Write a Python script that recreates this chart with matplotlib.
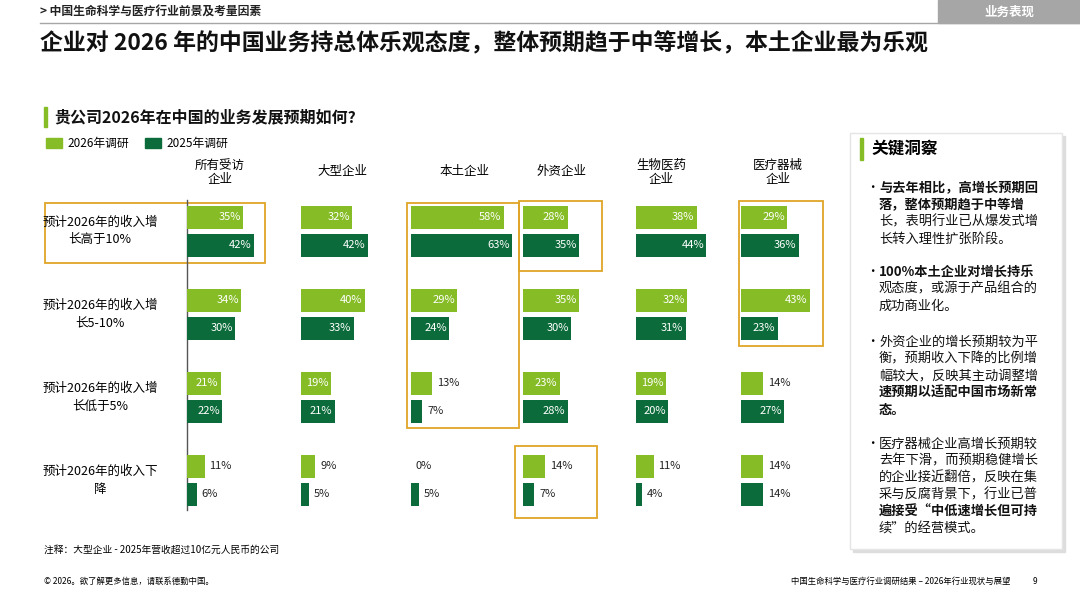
import matplotlib
matplotlib.use('Agg')
import matplotlib.pyplot as plt
from matplotlib.patches import Rectangle

plt.rcParams['font.family'] = ['Noto Sans CJK SC', 'DejaVu Sans']

# 数据
groups = ['所有受访\n企业', '大型企业', '本土企业', '外资企业', '生物医药\n企业', '医疗器械\n企业']
rows = ['预计2026年的收入增\n长高于10%', '预计2026年的收入增\n长5-10%',
        '预计2026年的收入增\n长低于5%', '预计2026年的收入下\n降']
v2026 = [[35, 34, 21, 11], [32, 40, 19, 9], [58, 29, 13, 0],
         [28, 35, 23, 14], [38, 32, 19, 11], [29, 43, 14, 14]]
v2025 = [[42, 30, 22, 6], [42, 33, 21, 5], [63, 24, 7, 5],
         [35, 30, 28, 7], [44, 31, 20, 4], [36, 23, 27, 14]]

LIGHT = '#86BC25'
DARK = '#0B6B3A'
ORANGE = '#E0A526'
W, H = 1080, 608

fig = plt.figure(figsize=(10.8, 6.08), dpi=100)
bg = fig.add_axes([0, 0, 1, 1])
bg.set_xlim(0, W)
bg.set_ylim(H, 0)
bg.axis('off')

# 顶部
bg.text(40, 12, '> 中国生命科学与医疗行业前景及考量因素', fontsize=8.5, fontweight='bold',
        va='center', color='#222222')
bg.add_patch(Rectangle((938, 0), 142, 23, color='#A6A6A6'))
bg.text(1009, 12, '业务表现', fontsize=9, color='white', style='italic', fontweight='bold',
        ha='center', va='center')
bg.plot([40, 1080], [23, 23], color='#A6A6A6', lw=1)
bg.text(40, 44, '企业对 2026 年的中国业务持总体乐观态度，整体预期趋于中等增长，本土企业最为乐观',
        fontsize=16.5, fontweight='bold', va='center', color='#111111')

bg.add_patch(Rectangle((44, 107), 3, 20, color=LIGHT))
bg.text(54, 117, '贵公司2026年在中国的业务发展预期如何?', fontsize=11.5, fontweight='bold',
        va='center', color='#111111')
bg.add_patch(Rectangle((46, 138), 16, 10, color=LIGHT))
bg.text(67, 143, '2026年调研', fontsize=8.5, va='center')
bg.add_patch(Rectangle((145, 138), 16, 10, color=DARK))
bg.text(166, 143, '2025年调研', fontsize=8.5, va='center')

starts = [187, 301, 411, 523, 636, 741]
centers = [220, 342, 465, 562, 661, 778]
row_y = [217, 300, 383, 466]
pxpp = 1.6
top, bot = 195, 515

for gi, g in enumerate(groups):
    bg.text(centers[gi], 172, g, fontsize=9, ha='center', va='center', linespacing=1.1)
    ax = fig.add_axes([starts[gi] / W, 1 - bot / H, 110 / W, (bot - top) / H])
    ax.set_xlim(0, 110 / pxpp)
    ax.set_ylim(bot, top)
    ax.axis('off')
    for ri in range(len(rows)):
        for val, yc, col in [(v2026[gi][ri], row_y[ri], LIGHT), (v2025[gi][ri], row_y[ri] + 28, DARK)]:
            ax.barh(yc, val, height=23, color=col)
            if val >= 15:
                ax.text(val - 1.5, yc, f'{val}%', color='white', fontsize=8, ha='right', va='center')
            else:
                ax.text(val + 3, yc, f'{val}%', color='#222222', fontsize=8, ha='left', va='center')

bg.plot([187, 187], [200, 510], color='#555555', lw=1)
for ri, r in enumerate(rows):
    bg.text(100, row_y[ri] + 14, r, fontsize=9, ha='center', va='center', linespacing=1.5)

# 橙色框
for x0, y0, x1, y1 in [(45, 203, 265, 263), (407, 203, 519, 428), (519, 201, 602, 271),
                       (515, 446, 597, 518), (739, 201, 823, 346)]:
    bg.add_patch(Rectangle((x0, y0), x1 - x0, y1 - y0, fill=False, ec=ORANGE, lw=1.3))

# 右侧洞察
bg.add_patch(Rectangle((853, 136), 212, 416, color='#DDDDDD'))
bg.add_patch(Rectangle((850, 133), 212, 416, color='white', ec='#E5E5E5'))
bg.add_patch(Rectangle((860, 138), 3, 22, color=LIGHT))
bg.text(871, 149, '关键洞察', fontsize=12, fontweight='bold', va='center')
bullets = [
    (188, [('与去年相比，高增长预期回', 'bold'), ('落，整体预期趋于中等增', 'bold'),
           ('长，表明行业已从爆发式增', 'normal'), ('长转入理性扩张阶段。', 'normal')]),
    (272, [('100%本土企业对增长持乐', 'bold'), ('观态度，或源于产品组合的', 'normal'),
           ('成功商业化。', 'normal')]),
    (342, [('外资企业的增长预期较为平', 'normal'), ('衡，预期收入下降的比例增', 'normal'),
           ('幅较大，反映其主动调整增', 'normal'), ('速预期以适配中国市场新常', 'bold'),
           ('态。', 'bold')]),
    (444, [('医疗器械企业高增长预期较', 'normal'), ('去年下滑，而预期稳健增长', 'normal'),
           ('的企业接近翻倍，反映在集', 'normal'), ('采与反腐背景下，行业已普', 'normal'),
           ('遍接受“中低速增长但可持', 'bold'), ('续”的经营模式。', 'normal')]),
]
for y0, lines in bullets:
    bg.text(866, y0, '•', fontsize=9, va='center')
    for li, (t, w) in enumerate(lines):
        bg.text(879, y0 + li * 17, t, fontsize=9.5, fontweight=w, va='center', color='#111111')

# 页脚
bg.text(44, 550, '注释：大型企业 - 2025年营收超过10亿元人民币的公司', fontsize=7, va='center')
bg.text(44, 581, '© 2026。欲了解更多信息，请联系德勤中国。', fontsize=6, va='center')
bg.text(1010, 581, '中国生命科学与医疗行业调研结果 – 2026年行业现状与展望', fontsize=6, va='center', ha='right')
bg.text(1033, 581, '9', fontsize=6, va='center')

fig.savefig('out.png', dpi=100)
